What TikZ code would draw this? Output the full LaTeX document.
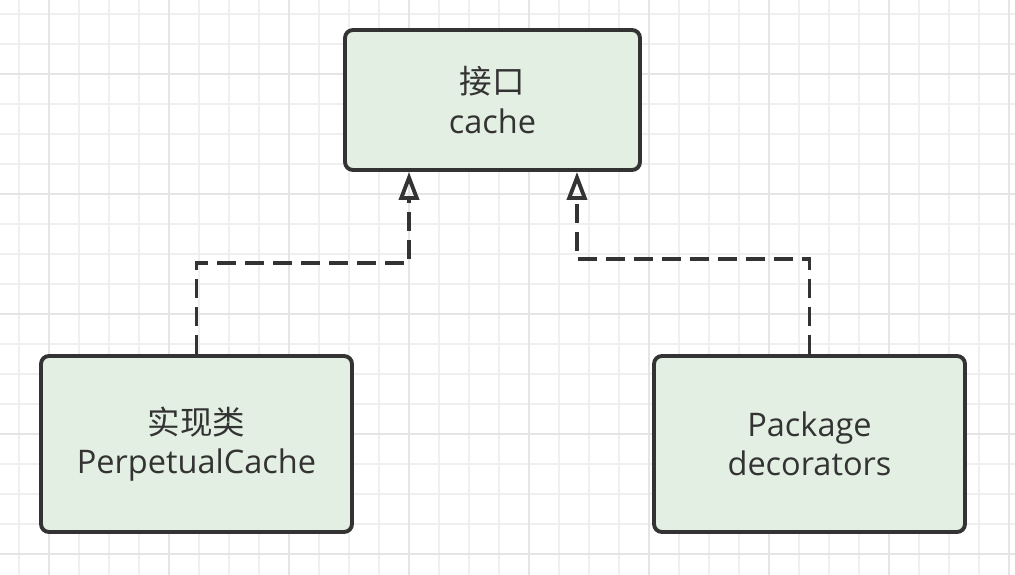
\documentclass[tikz,border=0pt]{standalone}
\usepackage{fontspec}
\setmainfont{Open Sans}
\newfontfamily\cjk{Noto Sans CJK SC}
\usepackage{xcolor}
\usepackage{tikz}
\usetikzlibrary{arrows.meta}
\definecolor{boxfill}{HTML}{E4EFE3}
\definecolor{boxline}{HTML}{333333}
\definecolor{gridthin}{HTML}{EFEFEF}
\definecolor{gridbold}{HTML}{E5E5E5}
\tikzset{
  classbox/.style={draw=boxline, fill=boxfill, line width=2.2pt, rounded corners=4.5pt,
    align=center, text=boxline, font=\fontsize{18.5pt}{22.5pt}\selectfont},
  realize/.style={draw=boxline, line width=2.2pt, dash pattern=on 0.38cm off 0.18cm,
    -{Triangle[open, length=0.56cm, width=0.4cm]}},
}

\begin{document}
\begin{tikzpicture}[x=0.02cm, y=-0.02cm]
    \useasboundingbox[fill=white] (0,0) rectangle (1015,575);
    \foreach \x in {19,49,...,1009} \draw[gridthin, line width=0.7pt] (\x,0) -- (\x,575);
    \foreach \y in {14,44,...,574} \draw[gridthin, line width=0.7pt] (0,\y) -- (1015,\y);
    \foreach \x in {49,169,...,1009} \draw[gridbold, line width=1pt] (\x,0) -- (\x,575);
    \foreach \y in {74,194,...,554} \draw[gridbold, line width=1pt] (0,\y) -- (1015,\y);

    \node[classbox, minimum width=5.9cm, minimum height=2.8cm] (iface) at (492.5,100)
      {{\cjk 接口}\\cache};
    \node[classbox, minimum width=6.22cm, minimum height=3.52cm] (impl) at (196.5,444)
      {{\cjk 实现类}\\PerpetualCache};
    \node[classbox, minimum width=6.22cm, minimum height=3.52cm] (deco) at (809.5,444)
      {Package\\decorators};

    \draw[realize] (impl.north) -- ++(0,-91) -| ([xshift=-1.67cm]iface.south);
    \draw[realize] (deco.north) -- ++(0,-95) -| ([xshift=1.69cm]iface.south);
  \end{tikzpicture}
\end{document}
